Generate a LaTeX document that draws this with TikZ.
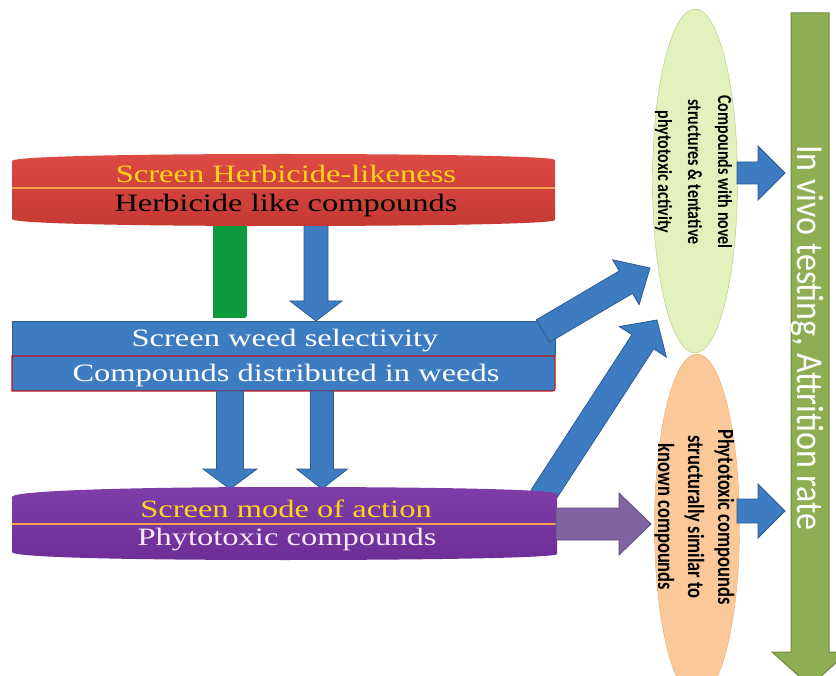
\documentclass[tikz,border=0pt]{standalone}
\usepackage{fontspec}
\setmainfont{Liberation Serif}
\newfontfamily\calfont{Carlito}
\usetikzlibrary{calc,shapes.geometric}
\definecolor{ablue}{HTML}{3E7CC2}
\definecolor{abluedk}{HTML}{2C5B93}
\definecolor{redtop}{HTML}{DC4A43}
\definecolor{redbot}{HTML}{C63A34}
\definecolor{purtop}{HTML}{7E3DA8}
\definecolor{purbot}{HTML}{6E2E98}
\definecolor{orline}{HTML}{F7A04A}
\definecolor{ttyel}{HTML}{FFD51C}
\definecolor{barg}{HTML}{0E9A3C}
\definecolor{parr}{HTML}{8064A2}
\definecolor{parrdk}{HTML}{5E4A80}
\definecolor{lgreen}{HTML}{E3F2BD}
\definecolor{lgreendk}{HTML}{AFC978}
\definecolor{peach}{HTML}{FBC999}
\definecolor{peachdk}{HTML}{EBA866}
\definecolor{olive}{HTML}{8DAE52}
\definecolor{olivedk}{HTML}{6E8A3C}
\definecolor{boxred}{HTML}{C0141C}
\definecolor{lav}{HTML}{F4EAF8}
% block arrow: style, from, to, shaft half width, head half width, head length
\newcommand\blockarr[6]{%
  \coordinate (hb) at ($(#3)!#6!(#2)$);
  \filldraw[#1] ($(#2)!#4!90:(#3)$) -- ($(hb)!#4!-90:(#2)$) -- ($(hb)!#5!-90:(#2)$) -- (#3)
    -- ($(hb)!#5!90:(#2)$) -- ($(hb)!#4!90:(#2)$) -- ($(#2)!#4!-90:(#3)$) -- cycle;}
\begin{document}
\begin{tikzpicture}[x=1pt,y=-1pt,
  lbl/.style={font=\fontsize{25}{30}\selectfont, anchor=base, inner sep=0pt},
  elbl/.style={rotate=-90, inner sep=0pt, text=black},
  barrow/.style={fill=ablue, draw=abluedk, line width=0.8pt},
  parrow/.style={fill=parr, draw=parrdk, line width=0.8pt},
  garrow/.style={fill=olive, draw=olivedk, line width=1pt},
  sepline/.style={orline, line width=2pt}]
\clip (0,0) rectangle (836,676);
\fill[white] (0,0) rectangle (836,676);

% connector end points
\coordinate (a1s) at (316,222);
\coordinate (a1e) at (316,321);
\coordinate (a2s) at (230,391);
\coordinate (a2e) at (230,489);
\coordinate (a3s) at (322,391);
\coordinate (a3e) at (322,489);
\coordinate (dAs) at (543,331);
\coordinate (dAe) at (650,268);
\coordinate (dBs) at (542,497);
\coordinate (dBe) at (657,320);
\coordinate (pas) at (556,524);
\coordinate (pae) at (651,524);
\coordinate (r1s) at (737,173);
\coordinate (r1e) at (785,173);
\coordinate (r2s) at (737,511);
\coordinate (r2e) at (785,511);
\coordinate (gs) at (810,13);
\coordinate (ge) at (810,686);

% green bar
\fill[barg] (213,222) -- (247,222) -- (247,312) .. controls (247,318) .. (241,318) -- (213,318) -- cycle;
\blockarr{barrow}{a1s}{a1e}{12pt}{26pt}{20pt}

% red box
\path[top color=redtop, bottom color=redbot] (12,161) .. controls (12,156) and (150,154) .. (285,154)
  .. controls (420,154) and (555,156) .. (555,160) -- (555,220)
  .. controls (555,224) and (420,226) .. (285,226) .. controls (150,226) and (12,224) .. (12,219) -- cycle;
\draw[sepline] (12,188) -- (555,188);

% blue box
\fill[ablue] (12,321) rectangle (555,391);
\draw[abluedk, line width=0.6pt] (12,356) -- (12,321) -- (555,321) -- (555,356);
\draw[boxred, line width=1.3pt] (12,356) -- (555,356) -- (555,385) .. controls (555,391) .. (549,391) -- (12,391) -- cycle;
\blockarr{barrow}{dAs}{dAe}{13pt}{26pt}{28pt}

% arrows to purple
\blockarr{barrow}{a2s}{a2e}{13.5pt}{27pt}{20pt}
\blockarr{barrow}{a3s}{a3e}{11.5pt}{25.5pt}{20pt}
\blockarr{barrow}{dBs}{dBe}{13pt}{28pt}{26pt}

% purple box
\path[top color=purtop, bottom color=purbot] (12,497) .. controls (12,490) and (150,487) .. (285,487)
  .. controls (420,487) and (557,489) .. (557,494) -- (557,554)
  .. controls (557,558) and (420,560) .. (285,560) .. controls (150,560) and (12,558) .. (12,552) -- cycle;
\draw[sepline] (12,524) -- (557,524);
\blockarr{parrow}{pas}{pae}{16pt}{31pt}{32pt}

% ellipses
\node[ellipse, fill=lgreen, draw=lgreendk, minimum width=85pt, minimum height=344pt, inner sep=0pt] (novel) at (695,181) {};
\node[ellipse, fill=peach, draw=peachdk, minimum width=85pt, minimum height=344pt, inner sep=0pt] (known) at (697,526) {};

% right arrows and in vivo arrow
\blockarr{barrow}{r1s}{r1e}{11pt}{27pt}{27pt}
\blockarr{barrow}{r2s}{r2e}{12pt}{27pt}{27pt}
\blockarr{garrow}{gs}{ge}{19pt}{38pt}{34pt}

% texts
\node[lbl, text=ttyel] (hl1) at (286,183) {\scalebox{1.3}[1]{Screen Herbicide-likeness}};
\node[lbl, text=black] (hl2) at (286,212) {\scalebox{1.3}[1]{Herbicide like compounds}};
\node[lbl, text=white] (ws1) at (285,347) {\scalebox{1.3}[1]{Screen weed selectivity}};
\node[lbl, text=white] (ws2) at (286,382) {\scalebox{1.3}[1]{Compounds distributed in weeds}};
\node[lbl, text=ttyel] (ma1) at (286,517) {\scalebox{1.3}[1]{Screen mode of action}};
\node[lbl, text=lav] (ma2) at (287,545) {\scalebox{1.3}[1]{Phytotoxic compounds}};

\node[elbl, font=\calfont\bfseries\fontsize{16}{24}\selectfont] (noveltxt) at (694,172)
  {\scalebox{1}[1.25]{\begin{tabular}{@{}c@{}}Compounds with novel\\structures \& tentative\\phytotoxic activity\end{tabular}}};
\node[elbl, font=\calfont\bfseries\fontsize{18.5}{24}\selectfont] (knowntxt) at (694,517)
  {\scalebox{1}[1.25]{\begin{tabular}{@{}c@{}}Phytotoxic compounds\\structurally similar to\\known compounds\end{tabular}}};
\node[rotate=-90, anchor=base, inner sep=0pt, text=white, font=\calfont\fontsize{34}{40}\selectfont] (vivotxt) at (797,338)
  {\scalebox{1}[1.12]{In vivo testing, Attrition rate}};
\end{tikzpicture}
\end{document}
